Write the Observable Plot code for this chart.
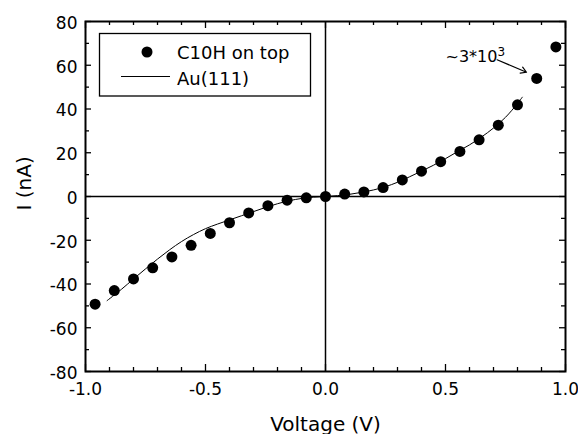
<!DOCTYPE html>
<html><head><meta charset="utf-8">
<script src="https://cdn.jsdelivr.net/npm/d3@7"></script>
<script src="https://cdn.jsdelivr.net/npm/@observablehq/plot@0.6"></script>
<style>body{margin:0;background:#fff} svg{display:block}</style>
</head><body><div id="chart"></div>
<script>
// measured data: C10H on top
const voltage = [-0.96,-0.88,-0.80,-0.72,-0.64,-0.56,-0.48,-0.40,-0.32,-0.24,-0.16,-0.08,0,0.08,0.16,0.24,0.32,0.40,0.48,0.56,0.64,0.72,0.80,0.88,0.96];
const current = [-49.2,-43.0,-37.7,-32.6,-27.6,-22.3,-16.9,-12.0,-7.5,-4.2,-1.7,-0.6,0,1.1,2.1,4.1,7.6,11.6,15.9,20.6,25.9,32.6,41.9,54.0,68.4];
// Au(111) curve
const fitVoltage = [-0.91,-0.85,-0.80,-0.75,-0.70,-0.65,-0.60,-0.55,-0.50,-0.45,-0.40,-0.35,-0.30,-0.25,-0.20,-0.15,-0.10,-0.05,0,0.05,0.10,0.15,0.20,0.25,0.30,0.35,0.40,0.45,0.50,0.55,0.60,0.65,0.70,0.75,0.80,0.82];
const fitCurrent = [-47.6,-42.4,-37.7,-33.1,-28.6,-24.4,-20.6,-17.4,-14.7,-12.6,-10.7,-8.8,-6.9,-5.0,-3.3,-1.9,-0.9,-0.3,0,0.4,1.0,1.9,3.0,4.5,6.5,9.0,11.6,14.3,17.3,20.5,23.6,27.2,31.3,36.2,42.5,45.4];

const xMajorTicks = [-1,-0.5,0,0.5,1];
const xMinorTicks = [-0.9,-0.8,-0.7,-0.6,-0.4,-0.3,-0.2,-0.1,0.1,0.2,0.3,0.4,0.6,0.7,0.8,0.9];
const yMajorTicks = [-80,-60,-40,-20,0,20,40,60,80];
const yMinorTicks = [-70,-50,-30,-10,10,30,50,70];

const annotationBase = ["~3*10"];
const annotationSup = ["3"];
const annotationX = [0.5];
const annotationY = [61.3];
const arrowX1 = [0.715], arrowY1 = [62.5], arrowX2 = [0.8375], arrowY2 = [56.8];

const legendLabels = ["C10H on top", "Au(111)"];

const W = 578, H = 434, mL = 85, mR = 13, mT = 21, mB = 63;
const innerH = H - mT - mB, innerW = W - mL - mR;
const font = "DejaVu Sans";

const points = voltage.map((v, i) => ({v, i: current[i]}));
const fit = fitVoltage.map((v, i) => ({v, i: fitCurrent[i]}));

const plot = Plot.plot({
  width: W, height: H,
  marginLeft: mL, marginRight: mR, marginTop: mT, marginBottom: mB,
  style: {fontFamily: font, fontSize: "17px", background: "#fff", color: "#000"},
  x: {domain: [-1, 1]},
  y: {domain: [-80, 80]},
  marks: [
    // zero lines
    Plot.ruleY([0], {stroke: "#000", strokeWidth: 1.5}),
    Plot.ruleX([0], {stroke: "#000", strokeWidth: 1.5}),
    // inward ticks
    Plot.ruleX(xMajorTicks, {x: d => d, insetTop: innerH - 7, stroke: "#000", strokeWidth: 1.3}),
    Plot.ruleX(xMinorTicks, {x: d => d, insetTop: innerH - 4, stroke: "#000", strokeWidth: 1.3}),
    Plot.ruleX(xMajorTicks, {x: d => d, insetBottom: innerH - 7, stroke: "#000", strokeWidth: 1.3}),
    Plot.ruleX(xMinorTicks, {x: d => d, insetBottom: innerH - 4, stroke: "#000", strokeWidth: 1.3}),
    Plot.ruleY(yMajorTicks, {y: d => d, insetRight: innerW - 6, stroke: "#000", strokeWidth: 1.3}),
    Plot.ruleY(yMinorTicks, {y: d => d, insetRight: innerW - 4, stroke: "#000", strokeWidth: 1.3}),
    Plot.ruleY(yMajorTicks, {y: d => d, insetLeft: innerW - 6, stroke: "#000", strokeWidth: 1.3}),
    Plot.ruleY(yMinorTicks, {y: d => d, insetLeft: innerW - 4, stroke: "#000", strokeWidth: 1.3}),
    Plot.frame({stroke: "#000", strokeWidth: 2}),
    Plot.axisX({ticks: xMajorTicks, tickSize: 0, tickPadding: 11, tickFormat: d => d.toFixed(1), label: null, fontSize: 17}),
    Plot.axisY({ticks: yMajorTicks, tickSize: 0, tickPadding: 8, tickFormat: d => String(d), label: null, fontSize: 17, dy: 2}),
    // fit curve
    Plot.line(fit, {x: "v", y: "i", stroke: "#000", strokeWidth: 1, curve: "catmull-rom"}),
    // measured points
    Plot.dot(points, {x: "v", y: "i", r: 5.5, fill: "#000", stroke: null}),
    // annotation
    Plot.text(annotationBase, {x: (d, k) => annotationX[k], y: (d, k) => annotationY[k], text: d => d, textAnchor: "start", lineAnchor: "bottom", fontSize: 16, className: "anno"}),
    Plot.arrow(arrowX1, {x1: (d, k) => arrowX1[k], y1: (d, k) => arrowY1[k], x2: (d, k) => arrowX2[k], y2: (d, k) => arrowY2[k], stroke: "#000", strokeWidth: 1.2, headLength: 8, bend: 0}),
    // axis titles
    Plot.text(["Voltage (V)"], {frameAnchor: "bottom", dy: 59, lineAnchor: "bottom", fontSize: 20}),
    Plot.text(["I (nA)"], {frameAnchor: "left", dx: -61, dy: 14, rotate: -90, fontSize: 20})
  ]
});

const svg = d3.select(plot);
// superscript on annotation
svg.selectAll(".anno text").each(function(d, k) {
  d3.select(this).append("tspan").attr("dy", "-0.5em").style("font-size", "12px").text(annotationSup[0]);
});

// legend box
const lg = svg.append("g");
lg.append("rect").attr("x", 99.5).attr("y", 33.5).attr("width", 211).attr("height", 62.5)
  .attr("fill", "#fff").attr("stroke", "#000").attr("stroke-width", 1.3);
lg.append("circle").attr("cx", 147).attr("cy", 52).attr("r", 5.5).attr("fill", "#000");
lg.append("line").attr("x1", 121).attr("x2", 170).attr("y1", 76.5).attr("y2", 76.5).attr("stroke", "#000").attr("stroke-width", 1);
[[legendLabels[0], 58.5], [legendLabels[1], 84.5]].forEach(([t, y]) => {
  lg.append("text").attr("x", 177).attr("y", y)
    .style("font-family", font).style("font-size", "18px").style("text-anchor", "start").attr("fill", "#000")
    .text(t);
});

document.getElementById("chart").appendChild(plot);
</script>
</body></html>
